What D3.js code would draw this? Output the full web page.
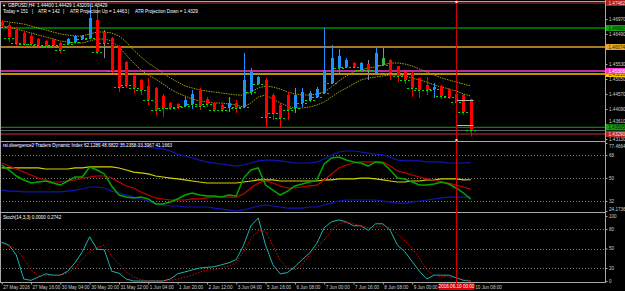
<!DOCTYPE html>
<html>
<head>
<meta charset="utf-8">
<script src="https://cdnjs.cloudflare.com/ajax/libs/d3/7.8.5/d3.min.js"></script>
<style>
    body { margin: 0; background: #000; }
    svg { display: block; }
    text { font-family: "Liberation Sans", Arial, sans-serif; }
</style>
</head>
<body>
<div id="chart"></div>
<script>
// ---- data ----
// the 9 Jun 16:00 label sits under the red cursor box in the picture, so it is left out
const timeLabels = ["27 May 2016", "27 May 16:00", "30 May 04:00", "30 May 20:00", "31 May 12:00",
    "1 Jun 04:00", "1 Jun 20:00", "2 Jun 12:00", "3 Jun 04:00", "5 Jun 16:00", "6 Jun 08:00",
    "7 Jun 00:00", "7 Jun 16:00", "8 Jun 08:00", "9 Jun 00:00", "10 Jun 08:00"];
const labelBars = [0, 4, 8, 12, 16, 20, 24, 28, 32, 36, 40, 44, 48, 52, 56, 64];

const opens = [1.46874, 1.46778, 1.46618, 1.46522, 1.46426, 1.46330, 1.46266, 1.46330, 1.46202, 1.46170,
    1.46234, 1.46330, 1.46362, 1.46938, 1.46554, 1.46362, 1.46106, 1.45594, 1.45146, 1.45018,
    1.44826, 1.44762, 1.44506, 1.44282, 1.44250, 1.44186, 1.44250, 1.44666, 1.44410, 1.44282,
    1.44218, 1.44154, 1.44282, 1.44154, 1.44634, 1.44890, 1.45018, 1.44538, 1.44218, 1.44538,
    1.44122, 1.44282, 1.44378, 1.44474, 1.44602, 1.44922, 1.45402, 1.45434, 1.45562, 1.45338,
    1.45530, 1.45242, 1.45498, 1.45658, 1.45466, 1.45274, 1.45242, 1.45082, 1.44858, 1.44730,
    1.44826, 1.44730, 1.44570, 1.44538, 1.44400];
const highs = [1.46938, 1.46874, 1.46682, 1.46586, 1.46490, 1.46362, 1.46298, 1.46362, 1.46234, 1.46362,
    1.46458, 1.46458, 1.47482, 1.47450, 1.46618, 1.46394, 1.46138, 1.45626, 1.45210, 1.45050,
    1.45082, 1.44794, 1.44570, 1.44314, 1.44282, 1.44474, 1.44698, 1.44762, 1.44474, 1.44314,
    1.44282, 1.44474, 1.44378, 1.45882, 1.45402, 1.45146, 1.45082, 1.44602, 1.44282, 1.44634,
    1.44762, 1.44762, 1.44666, 1.44794, 1.46682, 1.46138, 1.46010, 1.45722, 1.45594, 1.45594,
    1.45658, 1.46042, 1.46042, 1.45690, 1.45466, 1.45274, 1.45274, 1.45082, 1.45114, 1.44922,
    1.44858, 1.44762, 1.44602, 1.44570, 1.44429];
const lows = [1.46682, 1.46234, 1.46138, 1.46074, 1.46074, 1.46074, 1.46042, 1.46074, 1.45882, 1.46138,
    1.46202, 1.46298, 1.46330, 1.45850, 1.45722, 1.45242, 1.44634, 1.44762, 1.44602, 1.44538,
    1.44218, 1.43898, 1.43834, 1.44058, 1.44090, 1.44154, 1.44090, 1.44058, 1.44154, 1.43994,
    1.43994, 1.43994, 1.43962, 1.44122, 1.44538, 1.44858, 1.43482, 1.43738, 1.43514, 1.43738,
    1.43962, 1.44154, 1.44314, 1.44442, 1.44570, 1.44890, 1.45242, 1.45402, 1.45402, 1.45274,
    1.45018, 1.45210, 1.45466, 1.45018, 1.44954, 1.44890, 1.44474, 1.44442, 1.44538, 1.44442,
    1.44410, 1.44410, 1.44058, 1.43898, 1.43209];
const closes = [1.46746, 1.46394, 1.46202, 1.46170, 1.46170, 1.46138, 1.46106, 1.46138, 1.45978, 1.46330,
    1.46426, 1.46426, 1.47002, 1.45914, 1.46202, 1.45274, 1.44794, 1.44858, 1.44762, 1.44698,
    1.44378, 1.44058, 1.44122, 1.44122, 1.44154, 1.44378, 1.44570, 1.44186, 1.44250, 1.44058,
    1.44058, 1.44282, 1.44122, 1.45018, 1.45274, 1.45114, 1.43834, 1.43962, 1.43802, 1.44058,
    1.44538, 1.44634, 1.44602, 1.44730, 1.45338, 1.45722, 1.45786, 1.45658, 1.45434, 1.45562,
    1.45338, 1.45882, 1.45722, 1.45242, 1.45146, 1.45018, 1.44762, 1.44698, 1.44698, 1.44794,
    1.44506, 1.44474, 1.44314, 1.43994, 1.43429];
const grayWickBars = [14, 31, 40, 50, 52];
const greenBodyBars = [52];

const bandUpper = [1.46906, 1.46874, 1.46842, 1.46810, 1.46746, 1.46682, 1.46618, 1.46554, 1.46490, 1.46458,
    1.46426, 1.46426, 1.46490, 1.46554, 1.46554, 1.46522, 1.46426, 1.46234, 1.45978, 1.45754,
    1.45562, 1.45402, 1.45242, 1.45082, 1.44954, 1.44826, 1.44762, 1.44698, 1.44666, 1.44634,
    1.44602, 1.44570, 1.44538, 1.44538, 1.44634, 1.44762, 1.44826, 1.44794, 1.44730, 1.44634,
    1.44570, 1.44538, 1.44538, 1.44570, 1.44634, 1.44794, 1.44986, 1.45146, 1.45274, 1.45338,
    1.45402, 1.45434, 1.45498, 1.45562, 1.45562, 1.45530, 1.45466, 1.45370, 1.45274, 1.45178,
    1.45082, 1.45018, 1.44954, 1.44890, 1.44826];
const bandLower = [1.46746, 1.46714, 1.46650, 1.46586, 1.46522, 1.46458, 1.46394, 1.46330, 1.46266, 1.46234,
    1.46202, 1.46202, 1.46266, 1.46330, 1.46330, 1.46266, 1.46074, 1.45818, 1.45562, 1.45338,
    1.45178, 1.45050, 1.44890, 1.44730, 1.44602, 1.44506, 1.44410, 1.44346, 1.44314, 1.44282,
    1.44282, 1.44250, 1.44218, 1.44154, 1.44282, 1.44474, 1.44538, 1.44410, 1.44282, 1.44186,
    1.44122, 1.44122, 1.44154, 1.44218, 1.44314, 1.44474, 1.44634, 1.44762, 1.44890, 1.45018,
    1.45082, 1.45114, 1.45146, 1.45178, 1.45178, 1.45146, 1.45082, 1.45018, 1.44954, 1.44858,
    1.44794, 1.44730, 1.44666, 1.44570, 1.44506];
const dashMarks = [1.46714, 1.46362, 1.46202, 1.46170, 1.46170, 1.46138, 1.46106, 1.46138, 1.45978, 1.46170,
    1.46234, 1.46330, 1.46362, 1.45914, 1.46202, 1.45306, 1.44794, 1.44858, 1.44762, 1.44698,
    1.44378, 1.44058, 1.44122, 1.44122, 1.44154, 1.44186, 1.44250, 1.44186, 1.44250, 1.44058,
    1.44058, 1.44154, 1.44122, 1.44154, 1.44634, 1.44890, 1.43834, 1.43962, 1.43802, 1.44058,
    1.44122, 1.44282, 1.44378, 1.44474, 1.44602, 1.44922, 1.45402, 1.45434, 1.45434, 1.45338,
    1.45338, 1.45242, 1.45498, 1.45242, 1.45146, 1.45018, 1.44762, 1.44698, 1.44698, 1.44730,
    1.44506, 1.44474, 1.44314, 1.43994, 1.43429];

// 1.46010 is covered by the orange price box in the picture
const priceTicks = [1.46970, 1.46490, 1.45530, 1.45050, 1.44570, 1.44090, 1.43610, 1.43130];
const levelPrices = [1.47482, 1.46682, 1.46074, 1.45210, 1.45306, 1.43505, 1.43290];
const bidPrice = 1.43429;
const projBox = [1.44378, 1.43578];

// Traders Dynamic Index
const tdiUpper = [75.1, 75.1, 75.9, 75.9, 75.9, 76.7, 76.7, 76.7, 76.7, 76.7,
    76.7, 76.7, 77.4664, 77.4664, 77.4, 77.0, 76.7, 75.9, 75.1, 75.1,
    74.3, 73.5, 72.8, 71.2, 68.8, 67.3, 65.7, 64.1, 62.6, 61.8,
    61.0, 60.2, 59.4, 60.2, 61.8, 63.4, 64.1, 64.1, 63.4, 62.6,
    61.8, 61.8, 61.8, 62.6, 64.9, 68.1, 70.4, 71.2, 71.2, 70.4,
    69.6, 68.8, 68.1, 66.5, 64.1, 63.4, 63.4, 63.4, 62.6, 62.6,
    62.6, 61.8, 61.8, 61.8, 62.1286];
const tdiBase = [57.9, 57.9, 57.9, 57.9, 57.9, 57.9, 57.1, 57.1, 57.1, 57.1,
    57.9, 57.9, 58.7, 58.7, 58.7, 58.7, 57.9, 56.3, 54.7, 54.0,
    53.2, 51.6, 50.8, 50.0, 49.3, 48.5, 47.7, 46.9, 46.1, 46.1,
    46.1, 46.1, 46.1, 46.9, 47.7, 48.5, 48.5, 48.5, 47.7, 47.7,
    47.7, 47.7, 47.7, 47.7, 48.5, 48.5, 49.3, 49.3, 49.3, 50.0,
    50.0, 49.3, 48.5, 47.7, 46.9, 46.9, 47.7, 47.7, 48.5, 48.5,
    49.3, 49.3, 49.3, 48.5, 48.6822];
const tdiLower = [40.6, 39.8, 39.8, 39.1, 39.1, 39.1, 39.1, 39.1, 39.1, 39.8,
    40.6, 41.4, 43.0, 43.0, 42.2, 39.8, 38.3, 36.7, 35.1, 33.6,
    32.0, 29.7, 28.9, 28.1, 28.1, 27.3, 27.3, 27.3, 27.3, 26.5,
    25.7, 25.0, 24.1736, 25.0, 26.5, 28.1, 28.9, 28.1, 27.3, 26.5,
    26.5, 26.5, 27.3, 27.3, 28.9, 30.4, 32.0, 32.8, 32.8, 32.8,
    32.8, 32.8, 32.0, 31.2, 30.4, 30.4, 31.2, 32.0, 32.8, 33.6,
    34.4, 35.1, 35.1, 35.1, 35.2358];
const tdiRsi = [60.2, 56.3, 51.6, 48.5, 46.1, 46.9, 47.7, 46.1, 44.5, 47.7,
    50.8, 50.8, 58.7, 56.3, 53.2, 43.8, 36.7, 35.1, 34.4, 35.1,
    33.6, 29.7, 29.7, 31.2, 33.6, 36.7, 38.3, 36.7, 35.9, 35.9,
    35.1, 36.7, 35.9, 50.0, 56.3, 57.9, 44.5, 40.6, 36.7, 39.8,
    43.8, 45.3, 46.9, 48.5, 61.0, 65.7, 66.5, 64.1, 62.6, 61.8,
    59.4, 62.6, 61.8, 56.3, 50.0, 49.3, 46.9, 44.5, 44.5, 45.3,
    46.9, 45.3, 42.2, 38.3, 33.3967];
const tdiSignal = [61.8, 59.4, 57.1, 54.7, 52.4, 50.0, 48.5, 46.9, 46.9, 47.7,
    48.5, 50.0, 50.8, 51.6, 51.6, 50.0, 46.9, 43.8, 42.2, 39.1,
    36.7, 34.4, 33.6, 32.8, 32.8, 32.8, 33.6, 33.6, 34.4, 35.1,
    35.1, 35.1, 35.1, 37.5, 42.2, 46.1, 47.7, 46.1, 43.8, 42.2,
    42.2, 43.0, 43.8, 44.5, 48.5, 53.2, 57.9, 60.2, 61.8, 62.6,
    62.6, 62.6, 62.6, 59.4, 55.5, 54.0, 52.4, 50.8, 49.3, 48.5,
    46.9, 46.1, 44.5, 43.0, 41.1663];
const tdiTicks = [77.4664, 68, 50, 32, 24.1736];
const tdiTickText = ["77.4664", "68", "50", "32", "24.1736"];
const tdiGrid = [68, 50, 32];

// Stochastic
const stochMain = [60, 55, 40, 3, 1, 6, 11, 9, 9, 15,
    28, 45, 68, 49, 48, 15, 12, 3, 0, 0,
    0, 0, 0, 3, 11, 14, 17, 20, 21, 22,
    25, 28, 33, 55, 85, 97, 55, 25, 11, 13,
    22, 33, 43, 58, 82, 91, 94, 91, 85, 85,
    78, 88, 88, 78, 55, 45, 30, 15, 3, 9,
    9, 9, 5, 1, 0];
const stochSignal = [58, 54, 49, 35, 17, 8, 8, 8, 9, 12,
    20, 34, 45, 52, 55, 38, 26, 14, 6, 2,
    0, 0, 0, 1, 3, 6, 9, 14, 17, 17,
    20, 23, 28, 45, 65, 78, 76, 55, 32, 19,
    17, 25, 40, 52, 63, 78, 88, 91, 88, 85,
    82, 83, 85, 82, 72, 62, 50, 35, 17, 9,
    7, 6, 5, 2, 0.2742];
const stochTicks = [100, 80, 50, 20, 0];
const stochGrid = [80, 50, 20];

const headerLine = "GBPUSD,H4  1.44400 1.44429 1.43209 1.43429";
const infoParts = ["Today = 151", "|", "ATR = 142", "|", "ATR Projection Up = 1.4463", "|", "ATR Projection Down = 1.4329"];
const tdiTitle = "rsi divergence2 Traders Dynamic Index 62.1286 48.6822 35.2358 33.3967 41.1663";
const stochTitle = "Stoch(14,3,3) 0.0000 0.2742";
const cursorBar = 62;
const cursorLabel = "2016.06.10 00:00";

// ---- layout ----
const W = 625, H = 291, axisX = 606;
const fs = 4.6;
const borderCol = "#a8a8a8", axisText = "#cfcfcf";

const svg = d3.select("#chart").append("svg")
    .attr("width", W).attr("height", H)
    .style("background", "#000");

const x = d3.scaleLinear().domain([0, 64]).range([1.7, 470.8]);
const yMain = d3.scaleLinear().domain([1.43066, 1.47514]).range([141, 2]);
const yTdi = d3.scaleLinear().domain([24.1736, 77.4664]).range([211, 143]);
const yStoch = d3.scaleLinear().domain([0, 100]).range([281, 216]);
const px = (i) => Math.round(x(i)) + 0.5;

const defs = svg.append("defs");
[["clipMain", 2, 141], ["clipTdi", 142, 212], ["clipStoch", 213, 282]].forEach(([id, y0, y1]) => {
    defs.append("clipPath").attr("id", id)
        .append("rect").attr("x", 1).attr("y", y0).attr("width", axisX - 1).attr("height", y1 - y0);
});

const gMain = svg.append("g").attr("clip-path", "url(#clipMain)");
const gTdi = svg.append("g").attr("clip-path", "url(#clipTdi)");
const gStoch = svg.append("g").attr("clip-path", "url(#clipStoch)");

// ---- main panel: level lines ----
const levelStyle = [
    { line: "#b83232", w: 1, box: "#a82222", txt: "#ffd8d8" },
    { line: "#006a00", w: 2, box: "#16a016", txt: "#002a00" },
    { line: "#e0a030", w: 1.5, box: "#e8a62a", txt: "#3a2600" },
    { line: "#ffc000", w: 1.5, box: "#ffc400", txt: "#3a2a00" },
    { line: "#ff3ccc", w: 1.5, box: "#ff34c8", txt: "#ffffff" },
    { line: "#10a010", w: 1, box: "#12a012", txt: "#002200" },
    { line: "#c83030", w: 1, box: "#b02828", txt: "#ffe0e0" },
];

gMain.append("line")
    .attr("x1", 0).attr("x2", axisX)
    .attr("y1", Math.round(yMain(bidPrice)) + 0.5).attr("y2", Math.round(yMain(bidPrice)) + 0.5)
    .attr("stroke", "#56606c").attr("stroke-width", 1);

gMain.selectAll(".level").data(levelPrices).join("line")
    .attr("x1", 0).attr("x2", axisX)
    .attr("y1", (d) => yMain(d)).attr("y2", (d) => yMain(d))
    .attr("stroke", (d, i) => levelStyle[i].line)
    .attr("stroke-width", (d, i) => levelStyle[i].w);

// olive envelope
const bandLine = d3.line().x((d, i) => x(i)).y((d) => yMain(d));
[bandUpper, bandLower].forEach((arr) => {
    gMain.append("path").datum(arr)
        .attr("d", bandLine)
        .attr("fill", "none")
        .attr("stroke", "#a4a400")
        .attr("stroke-width", 1)
        .attr("stroke-dasharray", "1.5,1");
});

// candles
const bars = d3.range(opens.length).map((i) => ({ i, o: opens[i], h: highs[i], l: lows[i], c: closes[i] }));
const candleCol = (d) => (d.c >= d.o ? "#1e90ff" : "#ff0000");

gMain.selectAll(".wick").data(bars).join("line")
    .attr("x1", (d) => px(d.i)).attr("x2", (d) => px(d.i))
    .attr("y1", (d) => yMain(d.h)).attr("y2", (d) => yMain(d.l))
    .attr("stroke", (d) => (grayWickBars.includes(d.i) ? "#8c8c8c" : candleCol(d)))
    .attr("stroke-width", 1);

gMain.selectAll(".body").data(bars).join("rect")
    .attr("x", (d) => Math.round(x(d.i)) - 1)
    .attr("y", (d) => yMain(Math.max(d.o, d.c)))
    .attr("width", 3)
    .attr("height", (d) => Math.max(1, Math.abs(yMain(d.o) - yMain(d.c))))
    .attr("fill", (d) => (greenBodyBars.includes(d.i) ? "#3cb43c" : candleCol(d)));

// green marks
gMain.selectAll(".mark").data(dashMarks).join("line")
    .attr("x1", (d, i) => px(i) - 5.5).attr("x2", (d, i) => px(i) + 4.5)
    .attr("y1", (d) => Math.round(yMain(d)) + 0.5).attr("y2", (d) => Math.round(yMain(d)) + 0.5)
    .attr("stroke", "#00e000").attr("stroke-width", 1)
    .attr("stroke-dasharray", "2,2");

// ATR projection box
gMain.selectAll(".proj").data(projBox).join("line")
    .attr("x1", px(cursorBar)).attr("x2", px(64) + 2)
    .attr("y1", (d) => Math.round(yMain(d)) + 0.5).attr("y2", (d) => Math.round(yMain(d)) + 0.5)
    .attr("stroke", "#b8b8b8").attr("stroke-width", 1);

// ---- TDI panel ----
gTdi.selectAll(".grid").data(tdiGrid).join("line")
    .attr("x1", 0).attr("x2", axisX)
    .attr("y1", (d) => Math.round(yTdi(d)) + 0.5).attr("y2", (d) => Math.round(yTdi(d)) + 0.5)
    .attr("stroke", "#7a7a7a").attr("stroke-dasharray", "1,2");

const tdiLine = d3.line().x((d, i) => x(i)).y((d) => yTdi(d));
[
    [tdiUpper, "#1414b4", 1.2],
    [tdiLower, "#1414b4", 1.2],
    [tdiBase, "#d2d200", 1.2],
    [tdiSignal, "#c80000", 1.2],
    [tdiRsi, "#00a800", 1.5],
].forEach(([arr, col, w]) => {
    gTdi.append("path").datum(arr)
        .attr("d", tdiLine)
        .attr("fill", "none").attr("stroke", col).attr("stroke-width", w);
});

// ---- Stochastic panel ----
gStoch.selectAll(".grid").data(stochGrid).join("line")
    .attr("x1", 0).attr("x2", axisX)
    .attr("y1", (d) => Math.round(yStoch(d)) + 0.5).attr("y2", (d) => Math.round(yStoch(d)) + 0.5)
    .attr("stroke", "#7a7a7a").attr("stroke-dasharray", "1,2");

const stochLine = d3.line().x((d, i) => x(i)).y((d) => yStoch(d));
gStoch.append("path").datum(stochMain)
    .attr("d", stochLine).attr("fill", "none")
    .attr("stroke", "#20b2aa").attr("stroke-width", 1);
gStoch.append("path").datum(stochSignal)
    .attr("d", stochLine).attr("fill", "none")
    .attr("stroke", "#e00000").attr("stroke-width", 1)
    .attr("stroke-dasharray", "1.5,1.5");

// ---- frames ----
const frame = svg.append("g").attr("stroke", borderCol).attr("stroke-width", 1);
[1.5, 141.5, 212.5, 282.5].forEach((yy) => {
    frame.append("line").attr("x1", 0).attr("x2", axisX).attr("y1", yy).attr("y2", yy);
});
frame.append("line").attr("x1", 0.5).attr("x2", 0.5).attr("y1", 1.5).attr("y2", 282.5);

// ---- axes ----
function styleAxis(g) {
    g.select(".domain").attr("stroke", borderCol);
    g.selectAll(".tick line").attr("stroke", borderCol);
    g.selectAll(".tick text").attr("fill", axisText).style("font-size", fs + "px")
        .style("font-family", '"Liberation Sans", Arial, sans-serif');
}

const axMain = svg.append("g").attr("transform", `translate(${axisX - 0.5},0)`)
    .call(d3.axisRight(yMain).tickValues(priceTicks).tickFormat(d3.format(".5f")).tickSize(2).tickPadding(1.5));
styleAxis(axMain);
axMain.select(".domain").attr("d", "M0,0V282.5");
// the tick just above the lower green box sits a little higher in the picture
axMain.selectAll(".tick text").attr("dy", (d) => (d === 1.43610 ? "-0.25em" : "0.32em"));

const axTdi = svg.append("g").attr("transform", `translate(${axisX - 0.5},0)`)
    .call(d3.axisRight(yTdi).tickValues(tdiTicks).tickFormat((d, i) => tdiTickText[i]).tickSize(2).tickPadding(1.5));
styleAxis(axTdi);
axTdi.select(".domain").remove();
axTdi.selectAll(".tick text").attr("dy", (d, i) => (i === 0 ? "0.95em" : i === tdiTicks.length - 1 ? "-0.1em" : "0.32em"));

const axStoch = svg.append("g").attr("transform", `translate(${axisX - 0.5},0)`)
    .call(d3.axisRight(yStoch).tickValues(stochTicks).tickSize(2).tickPadding(1.5));
styleAxis(axStoch);
axStoch.select(".domain").remove();

// level price boxes on the axis
const boxes = svg.append("g");
levelPrices.forEach((p, i) => {
    const yy = yMain(p);
    boxes.append("rect")
        .attr("x", axisX).attr("y", yy - 3).attr("width", W - axisX).attr("height", 6)
        .attr("fill", levelStyle[i].box);
    boxes.append("text")
        .attr("x", axisX + 2.5).attr("y", yy + 1.6)
        .attr("fill", levelStyle[i].txt).style("font-size", fs + "px")
        .text(d3.format(".5f")(p));
});

// time axis
const axTime = svg.append("g").attr("transform", "translate(0,282.5)")
    .call(d3.axisBottom(x).tickValues(labelBars).tickFormat((d, i) => timeLabels[i]).tickSize(2).tickPadding(1.5));
styleAxis(axTime);
axTime.select(".domain").remove();
axTime.selectAll(".tick text").attr("text-anchor", "start").attr("dx", (d) => (d === 64 ? 4 : 1));

// ---- cursor line ----
const cx = px(cursorBar);
svg.append("line")
    .attr("x1", cx).attr("x2", cx).attr("y1", 0).attr("y2", 283)
    .attr("stroke", "#d00000").attr("stroke-width", 1);
[1, 139].forEach((yy) => {
    svg.append("rect").attr("x", cx - 1).attr("y", yy).attr("width", 2).attr("height", 2).attr("fill", "#fff");
});
svg.append("rect").attr("x", cx - 18).attr("y", 283).attr("width", 36).attr("height", 7).attr("fill", "#d80000");
svg.append("text").attr("x", cx).attr("y", 288.3).attr("text-anchor", "middle")
    .attr("fill", "#ffffff").style("font-size", fs + "px").text(cursorLabel);

// ---- captions ----
svg.append("text").attr("x", 2).attr("y", 7).attr("fill", "#fff").style("font-size", "4px").text("\u25BC");
svg.append("text").attr("x", 8).attr("y", 7).attr("fill", "#fff").style("font-size", fs + "px")
    .style("white-space", "pre").text(headerLine);

const infoX = [3, 32, 38, 63, 70, 128, 135];
infoParts.forEach((t, i) => {
    svg.append("text").attr("x", infoX[i]).attr("y", 12.8).attr("fill", "#fff")
        .style("font-size", fs + "px").text(t);
});

svg.append("text").attr("x", 3).attr("y", 147.3).attr("fill", "#fff").style("font-size", fs + "px").text(tdiTitle);
svg.append("text").attr("x", 3).attr("y", 218.6).attr("fill", "#fff").style("font-size", fs + "px").text(stochTitle);
</script>
</body>
</html>
